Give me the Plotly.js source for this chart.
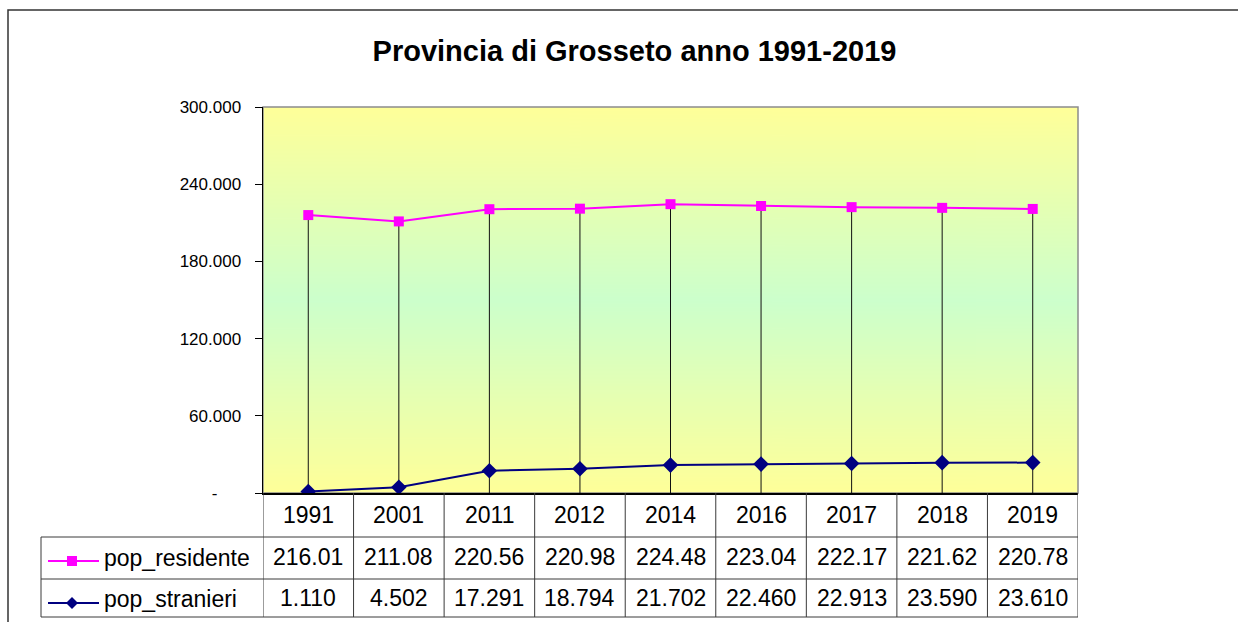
<!DOCTYPE html>
<html>
<head>
<meta charset="utf-8">
<script src="https://cdn.plot.ly/plotly-3.0.1.min.js"></script>
<style>html,body{margin:0;padding:0;background:#fff;}#chart{width:1238px;height:622px;}</style>
</head>
<body>
<div id="chart"></div>
<script>
// ---- data ----
const years = ["1991","2001","2011","2012","2014","2016","2017","2018","2019"];
const popResidente = [216010, 211080, 220560, 220980, 224480, 223040, 222170, 221620, 220780];
const popStranieri = [1110, 4502, 17291, 18794, 21702, 22460, 22913, 23590, 23610];
const seriesNames = ["pop_residente", "pop_stranieri"];
const yTickVals = [0, 60000, 120000, 180000, 240000, 300000];
const yTickText = ["-\u00a0\u00a0\u00a0\u00a0\u00a0", "60.000", "120.000", "180.000", "240.000", "300.000"];
const titleText = "Provincia di Grosseto anno 1991-2019";

// ---- geometry helpers (plot area 263..1078 x 107..493 px) ----
const W = 1238, H = 622, L = 263, R = 1078, T = 107, B = 493;
const px2x = p => (p - L) / (R - L);
const px2y = p => (B - p) / (B - T);

const fmtRes = v => (v / 1000).toFixed(2);
const fmtStr = v => Math.floor(v / 1000) + "." + String(v % 1000).padStart(3, "0");

// gradient background image
const cv = document.createElement("canvas");
cv.width = 4; cv.height = 400;
const ctx = cv.getContext("2d");
const g = ctx.createLinearGradient(0, 0, 0, 400);
g.addColorStop(0, "#FFFF99");
g.addColorStop(0.5, "#CCFFCC");
g.addColorStop(1, "#FFFF99");
ctx.fillStyle = g; ctx.fillRect(0, 0, 4, 400);

// drop lines
const dropX = [], dropY = [];
years.forEach((yr, i) => {
  const top = Math.max(popResidente[i], popStranieri[i]);
  dropX.push(yr, yr, null); dropY.push(0, top, null);
});

const traces = [
  {x: dropX, y: dropY, mode: "lines", line: {color: "#111", width: 1}, hoverinfo: "skip", showlegend: false},
  {x: years, y: popResidente, name: seriesNames[0], mode: "lines+markers",
   line: {color: "#FF00FF", width: 2}, marker: {symbol: "square", size: 10, color: "#FF00FF"}},
  {x: years, y: popStranieri, name: seriesNames[1], mode: "lines+markers",
   line: {color: "#000080", width: 2}, marker: {symbol: "diamond", size: 12, color: "#000080"}}
];

const lineCol = "#3a3a3a";
const shapes = [];
// outer frame
shapes.push({type: "rect", xref: "paper", yref: "paper", x0: px2x(8), x1: px2x(1245), y0: px2y(10), y1: px2y(630),
  line: {color: "#333", width: 1.5}, fillcolor: "rgba(0,0,0,0)", layer: "below"});
// plot area border
shapes.push({type: "rect", xref: "paper", yref: "paper", x0: 0, x1: 1, y0: 0, y1: 1,
  line: {color: "#8c8c8c", width: 1.5}, fillcolor: "rgba(0,0,0,0)", layer: "below"});
// table column lines
for (let k = 0; k <= years.length; k++) {
  shapes.push({type: "line", xref: "x", yref: "paper", x0: k - 0.5, x1: k - 0.5, y0: 0, y1: px2y(617),
    line: {color: lineCol, width: 1}});
}
// table row lines
[537, 579, 617].forEach(p => shapes.push({type: "line", xref: "paper", yref: "paper",
  x0: px2x(41), x1: 1, y0: px2y(p), y1: px2y(p), line: {color: lineCol, width: 1}}));
shapes.push({type: "line", xref: "paper", yref: "paper", x0: px2x(41), x1: px2x(41), y0: px2y(537), y1: px2y(617),
  line: {color: lineCol, width: 1}});
// legend keys
const keyY = [561, 603];
const keyCol = ["#FF00FF", "#000080"];
keyY.forEach((py, i) => {
  shapes.push({type: "line", xref: "paper", yref: "paper", x0: px2x(48), x1: px2x(99), y0: px2y(py), y1: px2y(py),
    line: {color: keyCol[i], width: 2}});
});
shapes.push({type: "rect", xref: "paper", yref: "paper", xsizemode: "pixel", ysizemode: "pixel",
  xanchor: px2x(72), yanchor: px2y(561), x0: -5, x1: 5, y0: -5, y1: 5,
  fillcolor: "#FF00FF", line: {color: "#FF00FF", width: 0}});
shapes.push({type: "path", xref: "paper", yref: "paper", xsizemode: "pixel", ysizemode: "pixel",
  xanchor: px2x(72), yanchor: px2y(603), path: "M0,-6 L6,0 L0,6 L-6,0 Z",
  fillcolor: "#000080", line: {color: "#000080", width: 0}});

const tf = {family: "Arial, 'Liberation Sans', sans-serif", size: 23, color: "#000"};
const annotations = [];
years.forEach((yr, i) => {
  const cx = px2x(L + (R - L) * (i + 0.5) / years.length);
  annotations.push({xref: "paper", yref: "paper", x: cx, y: px2y(515), text: yr, showarrow: false, font: tf, xanchor: "center", yanchor: "middle"});
  annotations.push({xref: "paper", yref: "paper", x: cx, y: px2y(557), text: fmtRes(popResidente[i]), showarrow: false, font: tf, xanchor: "center", yanchor: "middle"});
  annotations.push({xref: "paper", yref: "paper", x: cx, y: px2y(598), text: fmtStr(popStranieri[i]), showarrow: false, font: tf, xanchor: "center", yanchor: "middle"});
});
annotations.push({xref: "paper", yref: "paper", x: px2x(102), y: px2y(558), text: seriesNames[0], showarrow: false, font: tf, xanchor: "left", yanchor: "middle"});
annotations.push({xref: "paper", yref: "paper", x: px2x(102), y: px2y(599), text: seriesNames[1], showarrow: false, font: tf, xanchor: "left", yanchor: "middle"});

const layout = {
  width: W, height: H,
  margin: {l: L, r: W - R, t: T, b: H - B, pad: 0},
  paper_bgcolor: "#fff", plot_bgcolor: "rgba(0,0,0,0)",
  showlegend: false,
  title: {text: titleText, font: {family: "Arial, 'Liberation Sans', sans-serif", size: 29, color: "#000", weight: "bold"},
    xref: "paper", x: px2x(634.5), xanchor: "center", yref: "container", y: (H - 51) / H, yanchor: "middle"},
  xaxis: {type: "category", categoryorder: "array", categoryarray: years, range: [-0.5, years.length - 0.5],
    showticklabels: false, ticks: "", showgrid: false, zeroline: false,
    showline: true, linecolor: "#000", linewidth: 1.5, fixedrange: true},
  yaxis: {range: [0, 300000], tickvals: yTickVals, ticktext: yTickText, ticks: "outside", ticklen: 7,
    tickcolor: "#000", tickwidth: 1, ticklabelstandoff: 10,
    tickfont: {family: "Arial, 'Liberation Sans', sans-serif", size: 17, color: "#000"},
    showgrid: false, zeroline: false, showline: true, linecolor: "#000", linewidth: 1.5, fixedrange: true},
  images: [{source: cv.toDataURL(), xref: "paper", yref: "paper", x: 0, y: 1, sizex: 1, sizey: 1,
    sizing: "stretch", xanchor: "left", yanchor: "top", layer: "below"}],
  shapes: shapes,
  annotations: annotations
};

Plotly.newPlot("chart", traces, layout, {staticPlot: true, displayModeBar: false});
</script>
</body>
</html>
